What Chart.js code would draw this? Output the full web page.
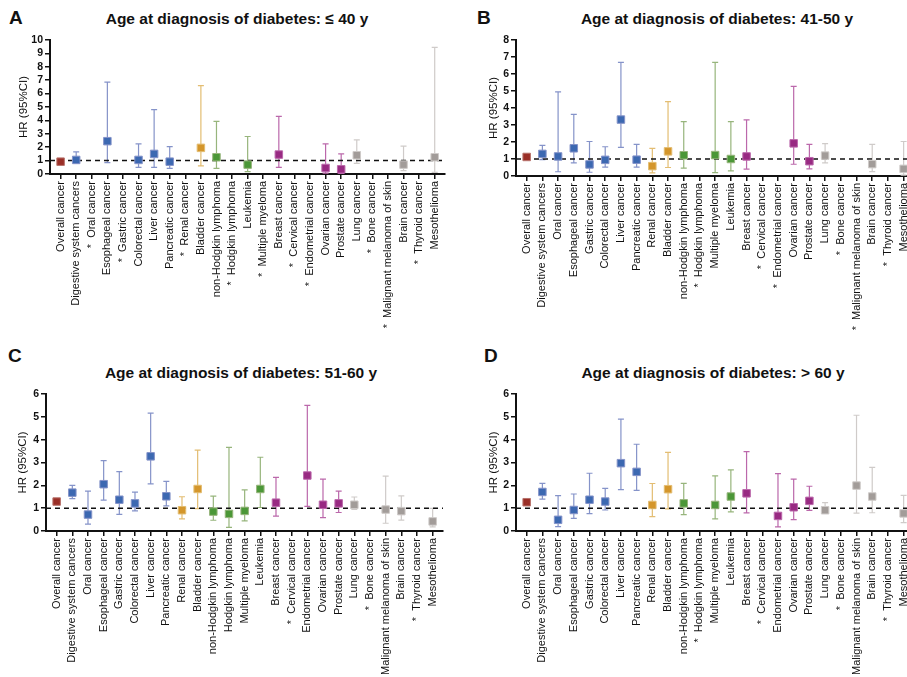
<!DOCTYPE html>
<html>
<head>
<meta charset="utf-8">
<script src="https://cdn.jsdelivr.net/npm/chart.js@4.4.0/dist/chart.umd.min.js"></script>
<style>
  body { margin: 0; width: 907px; height: 677px; overflow: hidden; background: #fff; position: relative;
         font-family: 'Liberation Sans', Arial, sans-serif; color: #111; }
  .panel { position: absolute; }
  .letter { position: absolute; font-weight: bold; font-size: 19px; line-height: 1; }
  .title { position: absolute; font-weight: bold; font-size: 15.5px; line-height: 1; transform: translateX(-50%); white-space: nowrap; }
</style>
</head>
<body>
<div class="letter" style="left:9px;top:8px">A</div>
<div class="title" style="left:237px;top:11px">Age at diagnosis of diabetes: ≤ 40 y</div>
<div class="letter" style="left:477px;top:8px">B</div>
<div class="title" style="left:717px;top:11px">Age at diagnosis of diabetes: 41-50 y</div>
<div class="letter" style="left:8px;top:346px">C</div>
<div class="title" style="left:241px;top:365px">Age at diagnosis of diabetes: 51-60 y</div>
<div class="letter" style="left:484px;top:346px">D</div>
<div class="title" style="left:713px;top:365px">Age at diagnosis of diabetes: &gt; 60 y</div>

<div class="panel" style="left:0;top:0;width:453px;height:340px"><canvas id="chartA"></canvas></div>
<div class="panel" style="left:466px;top:0;width:456px;height:340px"><canvas id="chartB"></canvas></div>
<div class="panel" style="left:0;top:340px;width:451px;height:337px"><canvas id="chartC"></canvas></div>
<div class="panel" style="left:466px;top:340px;width:456px;height:337px"><canvas id="chartD"></canvas></div>

<script>
// categories (panel A lists leukemia before multiple myeloma)
const cats = ['Overall cancer', 'Digestive system cancers', 'Oral cancer', 'Esophageal cancer', 'Gastric cancer',
  'Colorectal cancer', 'Liver cancer', 'Pancreatic cancer', 'Renal cancer', 'Bladder cancer',
  'non-Hodgkin lymphoma', 'Hodgkin lymphoma', 'Multiple myeloma', 'Leukemia', 'Breast cancer',
  'Cervical cancer', 'Endometrial cancer', 'Ovarian cancer', 'Prostate cancer', 'Lung cancer',
  'Bone cancer', 'Malignant melanoma of skin', 'Brain cancer', 'Thyroid cancer', 'Mesothelioma'];
const catsA = ['Overall cancer', 'Digestive system cancers', 'Oral cancer', 'Esophageal cancer', 'Gastric cancer',
  'Colorectal cancer', 'Liver cancer', 'Pancreatic cancer', 'Renal cancer', 'Bladder cancer',
  'non-Hodgkin lymphoma', 'Hodgkin lymphoma', 'Leukemia', 'Multiple myeloma', 'Breast cancer',
  'Cervical cancer', 'Endometrial cancer', 'Ovarian cancer', 'Prostate cancer', 'Lung cancer',
  'Bone cancer', 'Malignant melanoma of skin', 'Brain cancer', 'Thyroid cancer', 'Mesothelioma'];

// HR and 95% CI, null = not estimable (*)
const hrA   = [0.92, 1.05, null, 2.45, null, 1.05, 1.5, 0.92, null, 1.95, 1.25, null, 0.7, null, 1.45, null, null, 0.45, 0.35, 1.4, null, null, 0.7, null, 1.25];
const lowA  = [0.82, 0.8, null, 0.85, null, 0.5, 0.5, 0.42, null, 0.6, 0.42, null, 0.17, null, 0.5, null, null, 0.06, 0.05, 0.8, null, null, 0.25, null, 0.12];
const highA = [1.03, 1.65, null, 6.85, null, 2.25, 4.8, 2.05, null, 6.6, 3.92, null, 2.8, null, 4.3, null, null, 2.25, 1.5, 2.55, null, null, 2.08, null, 9.45];

const hrB   = [1.12, 1.3, 1.15, 1.63, 0.68, 0.95, 3.32, 0.96, 0.58, 1.45, 1.22, null, 1.23, 1.0, 1.15, null, null, 1.92, 0.87, 1.2, null, null, 0.7, null, 0.42];
const lowB  = [1.0, 0.96, 0.25, 0.77, 0.22, 0.52, 1.68, 0.52, 0.18, 0.5, 0.46, null, 0.2, 0.3, 0.4, null, null, 0.69, 0.42, 0.77, null, null, 0.26, null, 0.05];
const highB = [1.25, 1.8, 4.95, 3.62, 2.03, 1.72, 6.68, 1.86, 1.63, 4.38, 3.2, null, 6.68, 3.2, 3.3, null, null, 5.27, 1.86, 1.9, null, null, 1.86, null, 2.03];

const hrC   = [1.29, 1.68, 0.72, 2.05, 1.37, 1.21, 3.27, 1.52, 0.91, 1.84, 0.85, 0.75, 0.88, 1.84, 1.24, null, 2.43, 1.15, 1.21, 1.15, null, 0.94, 0.87, null, 0.42];
const lowC  = [1.2, 1.42, 0.3, 1.35, 0.73, 0.88, 2.06, 1.1, 0.53, 0.98, 0.47, 0.16, 0.44, 1.03, 0.65, null, 1.08, 0.59, 0.81, 0.95, null, 0.34, 0.48, null, 0.18];
const highC = [1.38, 2.0, 1.75, 3.08, 2.6, 1.7, 5.16, 2.17, 1.5, 3.54, 1.53, 3.66, 1.8, 3.23, 2.35, null, 5.5, 2.27, 1.75, 1.49, null, 2.4, 1.54, null, 0.99];

const hrD   = [1.26, 1.71, 0.49, 0.92, 1.37, 1.29, 2.97, 2.59, 1.14, 1.83, 1.21, null, 1.14, 1.51, 1.65, null, 0.66, 1.04, 1.32, 0.91, null, 1.99, 1.51, null, 0.77];
const lowD  = [1.18, 1.4, 0.19, 0.55, 0.76, 0.92, 1.81, 1.78, 0.63, 0.97, 0.72, null, 0.53, 0.84, 0.79, null, 0.18, 0.5, 0.9, 0.77, null, 0.78, 0.8, null, 0.37];
const highD = [1.34, 2.09, 1.55, 1.62, 2.53, 1.87, 4.9, 3.8, 2.08, 3.44, 2.09, null, 2.41, 2.68, 3.48, null, 2.51, 2.27, 1.96, 1.24, null, 5.07, 2.79, null, 1.56];

// colour groups: [marker, whisker]
function groupColor(name) {
  if (name === 'Overall cancer') return ['#9a2f27', '#b8736c'];
  if (/Digestive|Oral|Esophageal|Gastric|Colorectal|Liver|Pancreatic/.test(name)) return ['#3c68b1', '#8593c9'];
  if (/Renal|Bladder/.test(name)) return ['#d4962b', '#e3bd72'];
  if (/lymphoma|myeloma|Leukemia/.test(name)) return ['#4b9737', '#97b57c'];
  if (/Breast|Cervical|Endometrial|Ovarian|Prostate/.test(name)) return ['#982a82', '#bb68ab'];
  return ['#a29c99', '#cfcbc9'];
}

Chart.defaults.font.family = "'Liberation Sans', Arial, sans-serif";
Chart.defaults.color = '#111';

const whiskers = {
  id: 'whiskers',
  beforeDatasetsDraw(chart, args, opts) {
    const { ctx, chartArea, scales: { x, y } } = chart;
    ctx.save();
    opts.low.forEach((lo, i) => {
      if (lo == null) return;
      const px = x.getPixelForValue(i);
      const pl = y.getPixelForValue(lo);
      const ph = y.getPixelForValue(opts.high[i]);
      ctx.strokeStyle = groupColor(opts.names[i])[1];
      ctx.lineWidth = 1.2;
      ctx.beginPath();
      ctx.moveTo(px, pl); ctx.lineTo(px, ph);
      ctx.moveTo(px - 3, pl); ctx.lineTo(px + 3, pl);
      ctx.moveTo(px - 3, ph); ctx.lineTo(px + 3, ph);
      ctx.stroke();
    });
    // reference line HR = 1
    const y1 = y.getPixelForValue(1);
    ctx.setLineDash([5, 4]);
    ctx.lineWidth = 1.5;
    ctx.strokeStyle = '#111';
    ctx.beginPath();
    ctx.moveTo(chartArea.left, y1); ctx.lineTo(chartArea.right, y1);
    ctx.stroke();
    ctx.restore();
  }
};

function makePanel(id, names, hr, low, high, ymax, yWidth, xHeight, padTop, titlePad) {
  const idx = names.map((n, i) => i).filter(i => hr[i] != null);
  const labels = names.map((n, i) => (hr[i] == null ? '*  ' : '') + n);
  new Chart(document.getElementById(id), {
    type: 'scatter',
    data: {
      datasets: [{
        data: idx.map(i => ({ x: i, y: hr[i] })),
        pointStyle: 'rect',
        pointRadius: 5.3,
        pointHoverRadius: 5.3,
        backgroundColor: idx.map(i => groupColor(names[i])[0]),
        borderColor: idx.map(i => groupColor(names[i])[1]),
        borderWidth: 1
      }]
    },
    options: {
      responsive: true,
      maintainAspectRatio: false,
      animation: false,
      layout: { padding: { top: padTop, right: 8, left: 0, bottom: 0 } },
      plugins: {
        legend: { display: false },
        tooltip: { enabled: false },
        whiskers: { names: names, low: low, high: high }
      },
      scales: {
        x: {
          type: 'linear',
          min: -0.68,
          max: 24.66,
          afterBuildTicks: s => { s.ticks = names.map((n, i) => ({ value: i })); },
          afterFit: s => { s.height = xHeight; },
          ticks: {
            autoSkip: false,
            minRotation: 90,
            maxRotation: 90,
            padding: 2,
            font: { size: 11 },
            callback: v => labels[v]
          },
          grid: { drawOnChartArea: false, drawTicks: true, tickLength: 5, color: '#111', lineWidth: 1.5 },
          border: { display: true, color: '#111', width: 2 }
        },
        y: {
          min: 0,
          max: ymax,
          afterFit: s => { s.width = yWidth; },
          ticks: { stepSize: 1, autoSkip: false, padding: 2, font: { size: 10.5, weight: 'bold' } },
          grid: { drawOnChartArea: false, drawTicks: true, tickLength: 5, color: '#111', lineWidth: 1.5 },
          border: { display: true, color: '#111', width: 2 },
          title: { display: true, text: 'HR (95%CI)', font: { size: 11.5 }, padding: { top: titlePad, bottom: 0 } }
        }
      }
    },
    plugins: [whiskers]
  });
}

makePanel('chartA', catsA, hrA, lowA, highA, 10, 50, 166, 40, 16.5);
makePanel('chartB', cats, hrB, lowB, highB, 8, 50, 164, 40, 20.5);
makePanel('chartC', cats, hrC, lowC, highC, 6, 46, 146, 54, 16);
makePanel('chartD', cats, hrD, lowD, highD, 6, 50, 146, 54, 20.5);
</script>
</body>
</html>
